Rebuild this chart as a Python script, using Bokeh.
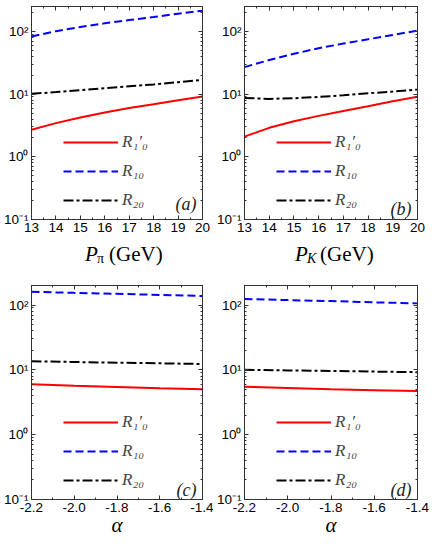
import numpy as np
from bokeh.plotting import figure
from bokeh.models import Range1d, LogAxis, LinearAxis, FixedTicker, Label, Legend, LegendItem
from bokeh.layouts import column, row
from bokeh.core.properties import value
from bokeh.embed import file_html
from bokeh.resources import INLINE

# ---------------- data ----------------
p_pi = [13, 14, 15, 16, 17, 18, 19, 20]
a_r1p0 = [2.7, 3.45, 4.25, 5.1, 6.0, 6.9, 8.0, 9.2]
a_r10 = [83, 101, 118, 135, 152, 170, 192, 214]
a_r20 = [10.1, 10.8, 11.6, 12.4, 13.3, 14.3, 15.5, 16.9]

p_k = [13, 14, 15, 16, 17, 18, 19, 20]
b_r1p0 = [2.1, 2.9, 3.7, 4.5, 5.4, 6.4, 7.7, 9.1]
b_r10 = [27, 35, 44, 54, 64, 75, 88, 103]
b_r20 = [8.7, 8.4, 8.6, 9.0, 9.6, 10.3, 11.0, 11.8]

alpha_c = [-2.2, -2.0, -1.8, -1.6, -1.4]
c_r1p0 = [6.0, 5.7, 5.45, 5.2, 5.0]
c_r10 = [160, 154, 149, 143, 138]
c_r20 = [13.6, 13.2, 12.9, 12.6, 12.3]

alpha_d = [-2.2, -2.0, -1.8, -1.6, -1.4]
d_r1p0 = [5.5, 5.25, 5.0, 4.85, 4.7]
d_r10 = [124, 119, 115, 110, 106]
d_r20 = [10.0, 9.8, 9.6, 9.4, 9.2]

p_ticks = [13, 14, 15, 16, 17, 18, 19, 20]
alpha_ticks = [-2.2, -2.0, -1.8, -1.6, -1.4]
alpha_tick_labels = ["-2.2", "-2.0", "-1.8", "-1.6", "-1.4"]
y_ticks = [0.1, 1, 10, 100]
y_tick_labels = ["10\u207b\u00b9", "10\u2070", "10\u00b9", "10\u00b2"]
legend_labels = ["R\u2081\u2032\u2080", "R\u2081\u2080", "R\u2082\u2080"]

AX = "#333333"
SERIF = "Liberation Serif"
SANS = "Liberation Sans"


def style_axis(ax, ticks, minor, show_labels, overrides=None):
    ax.ticker = FixedTicker(ticks=ticks, minor_ticks=minor)
    ax.axis_line_color = AX
    ax.major_tick_line_color = AX
    ax.minor_tick_line_color = AX
    ax.major_tick_in = 4
    ax.major_tick_out = 0
    ax.minor_tick_in = 2
    ax.minor_tick_out = 0
    if show_labels:
        ax.major_label_text_font = SANS
        ax.major_label_text_font_size = "13.5px"
        ax.major_label_text_color = "black"
        ax.major_label_standoff = 3
        if overrides:
            ax.major_label_overrides = overrides
    else:
        ax.major_label_text_font_size = "1px"
        ax.major_label_standoff = 0
        ax.major_label_overrides = {t: "" for t in ticks}


def panel(x, r1p0, r10, r20, xrange, ytop, xticks, xminor, xoverrides, tag, tag_dy,
          W, H, L, R, T, B, xlabel=None):
    p = figure(width=W, height=H, y_axis_type="log",
               x_range=xrange, y_range=Range1d(0.1, ytop),
               output_backend="svg", toolbar_location=None,
               min_border_left=L, min_border_right=R, min_border_top=T, min_border_bottom=B)
    p.grid.visible = False
    p.outline_line_color = AX
    p.background_fill_color = "white"
    p.border_fill_color = "white"

    yminor = [k * 10.0 ** e for e in (-1, 0, 1, 2) for k in range(2, 10) if k * 10.0 ** e <= ytop]
    yover = {t: lab for t, lab in zip(y_ticks, y_tick_labels)}

    style_axis(p.xaxis[0], xticks, xminor, True, xoverrides)
    style_axis(p.yaxis[0], y_ticks, yminor, True, yover)
    if xlabel:
        ax = p.xaxis[0]
        ax.axis_label = xlabel
        ax.axis_label_text_font = SERIF
        ax.axis_label_text_font_style = "italic"
        ax.axis_label_text_font_size = "21px"
        ax.axis_label_text_color = "black"
        ax.axis_label_standoff = -2
    ra = LogAxis()
    style_axis(ra, y_ticks, yminor, False)
    p.add_layout(ra, "right")
    ta = LinearAxis()
    style_axis(ta, xticks, xminor, False)
    p.add_layout(ta, "above")

    l1 = p.line(x, r1p0, line_color="#ff0000", line_width=2)
    l2 = p.line(x, r10, line_color="#0000ff", line_width=2, line_dash="8 4")
    l3 = p.line(x, r20, line_color="black", line_width=2, line_dash="10 3 3 3")

    leg = Legend(items=[LegendItem(label=legend_labels[0], renderers=[l1]),
                        LegendItem(label=legend_labels[1], renderers=[l2]),
                        LegendItem(label=legend_labels[2], renderers=[l3])],
                 location=(32, 9), orientation="vertical",
                 glyph_width=55, glyph_height=20, label_height=20, label_standoff=4,
                 spacing=9, padding=0, margin=0,
                 label_text_font=SERIF, label_text_font_style="italic",
                 label_text_font_size="17px", label_text_baseline="middle",
                 background_fill_alpha=0, border_line_color=None)
    p.add_layout(leg, "center")

    p.add_layout(Label(x=xrange.end, y=0.1, x_offset=-6, y_offset=tag_dy, text=tag,
                       text_font=SERIF, text_font_style="italic", text_font_size="18px",
                       text_align="right", text_baseline="middle", text_color="#222222"))
    return p


def label_fig(xrange, W, H, L, R, yc, parts):
    f = figure(width=W, height=H, x_range=xrange, y_range=Range1d(H, 0),
               output_backend="svg", toolbar_location=None,
               x_axis_location=None, y_axis_location=None,
               min_border_left=L, min_border_right=R, min_border_top=0, min_border_bottom=0)
    f.grid.visible = False
    f.outline_line_color = None
    f.background_fill_color = "white"
    f.border_fill_color = "white"
    xc = (xrange.start + xrange.end) / 2.0
    for (txt, dx, dy, size, style) in parts:
        f.text(x=[xc], y=[yc], text=[txt], x_offset=dx, y_offset=dy,
               text_font=value(SERIF), text_font_style=value(style),
               text_font_size=value(size), text_align="left", text_baseline="middle",
               text_color="black")
    return f


p_minor = [float(v) for v in np.round(np.arange(13, 20.01, 0.5), 2)]
a_minor = [float(v) for v in np.round(np.arange(-2.2, -1.39, 0.1), 2)]
alpha_over = {t: lab for t, lab in zip(alpha_ticks, alpha_tick_labels)}

lab_a = [("P", -32, 0, "21px", "italic"), ("\u03c0", -20, 5, "14px", "normal"),
         ("(GeV)", -8, 0, "21px", "normal")]
lab_b = [("P", -36, 0, "21px", "italic"), ("K", -24, 5, "14px", "italic"),
         ("(GeV)", -11, 0, "21px", "normal")]

xr_a = Range1d(13, 20)
xr_b = Range1d(13, 20)
xr_c = Range1d(-2.2, -1.4)
xr_d = Range1d(-2.2, -1.4)

WA, LA, RA = 213, 29, 11
WB, LB, RB = 216, 29, 12

pa = panel(p_pi, a_r1p0, a_r10, a_r20, xr_a, 250, p_ticks, p_minor, None, "(a)", 16,
           WA, 239, LA, RA, 6, 20)
pb = panel(p_k, b_r1p0, b_r10, b_r20, xr_b, 250, p_ticks, p_minor, None, "(b)", 11,
           WB, 239, LB, RB, 6, 20)
pc = panel(alpha_c, c_r1p0, c_r10, c_r20, xr_c, 200, alpha_ticks, a_minor, alpha_over, "(c)", 10,
           WA, 279, LA, RA, 19, 46, "\u03b1")
pd = panel(alpha_d, d_r1p0, d_r10, d_r20, xr_d, 200, alpha_ticks, a_minor, alpha_over, "(d)", 10,
           WB, 279, LB, RB, 19, 46, "\u03b1")

la = label_fig(xr_a, WA, 27, LA, RA, 14, lab_a)
lb = label_fig(xr_b, WB, 27, LB, RB, 14, lab_b)

layout = column(row(column(pa, la), column(pb, lb)), row(pc, pd))
open("out.html", "w").write(file_html(layout, INLINE))
